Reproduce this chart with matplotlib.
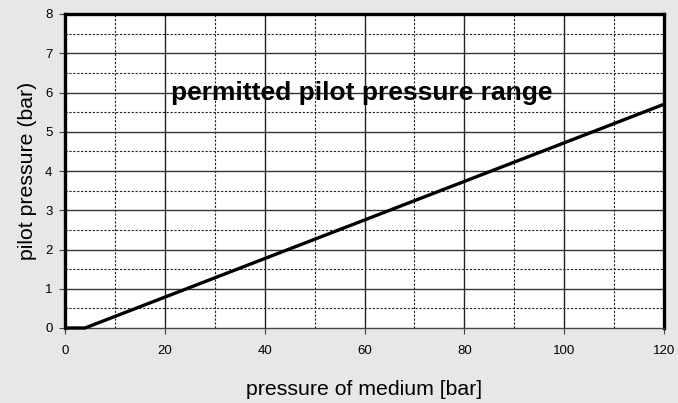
import matplotlib
matplotlib.use("Agg")
import matplotlib.pyplot as plt
import numpy as np

plt.rcParams['font.family'] = ['Liberation Sans', 'DejaVu Sans']

medium_pressure = [0, 4, 120]
pilot_pressure = [0, 0, 5.7]
x_ticks = [0, 20, 40, 60, 80, 100, 120]
y_ticks = [0, 1, 2, 3, 4, 5, 6, 7, 8]
x_minor = [10, 30, 50, 70, 90, 110]
y_minor = [0.5, 1.5, 2.5, 3.5, 4.5, 5.5, 6.5, 7.5]

bg = '#e6e7e9'
fig = plt.figure(figsize=(6.78, 4.03), dpi=100, facecolor=bg)
ax = fig.add_axes([65/678, 1-328/403, (664-65)/678, (328-14)/403])
ax.set_facecolor('white')
ax.set_xlim(0, 120)
ax.set_ylim(0, 8)

for x in x_minor:
    ax.axvline(x, color='#222222', lw=0.8, ls=(0, (2, 1.5)), zorder=1)
for y in y_minor:
    ax.axhline(y, color='#222222', lw=0.8, ls=(0, (2, 1.5)), zorder=1)
for x in x_ticks[1:-1]:
    ax.axvline(x, color='#222222', lw=1.0, zorder=1)
for y in y_ticks[1:-1]:
    ax.axhline(y, color='#333333', lw=1.0, zorder=1)

ax.plot(medium_pressure, pilot_pressure, color='black', lw=2.4, zorder=3, clip_on=False, solid_capstyle='butt')

for s in ['top', 'left', 'right']:
    ax.spines[s].set_linewidth(2.4)
    ax.spines[s].set_color('black')
ax.spines['bottom'].set_linewidth(1.0)
ax.spines['bottom'].set_color('#444444')

ax.set_xticks(x_ticks)
ax.set_yticks(y_ticks)
ax.tick_params(axis='both', labelsize=9.5, length=4, width=0.8, color='#444444', direction='out', pad=8)
ax.tick_params(axis='y', pad=5)

ax.set_xlabel('pressure of medium [bar]', fontsize=15.3, labelpad=17)
ax.set_ylabel('pilot pressure (bar)', fontsize=15.3, labelpad=6)

ax.text(59.5, 5.98, 'permitted pilot pressure range', fontsize=19, fontweight='bold',
        ha='center', va='center', zorder=4)

fig.savefig('out.png', dpi=100, facecolor=bg)
